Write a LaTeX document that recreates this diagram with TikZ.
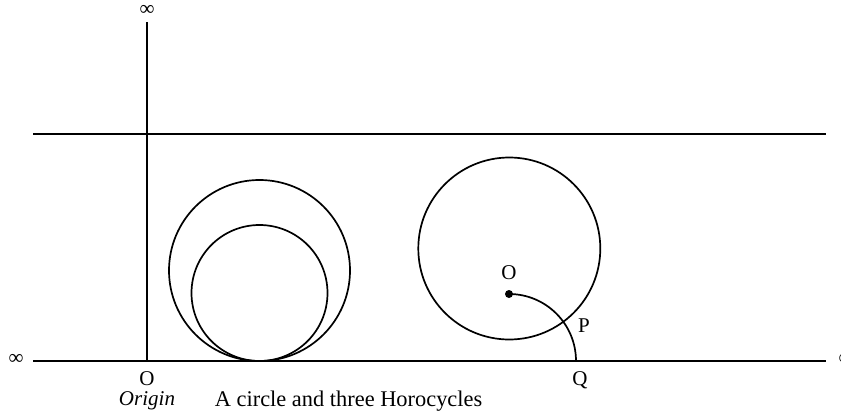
\documentclass[tikz,border=0pt]{standalone}
\usepackage{fontspec}
\setmainfont{Liberation Serif}
\usetikzlibrary{calc}

\begin{document}
\begin{tikzpicture}[
  x=1pt, y=-1pt, line width=1.7pt,
  lbl/.style={inner sep=0pt, font=\fontsize{21}{25}\selectfont},
  cyc/.style={draw, line width=1.7pt},
  dot/.style={circle, fill, inner sep=0pt, minimum size=8pt}]
  \useasboundingbox (0,0) rectangle (841,415);
  % the two horizontal lines and the axis
  \coordinate (west) at (33,361);
  \coordinate (east) at (826,361);
  \coordinate (nw) at (33,134);
  \coordinate (ne) at (826,134);
  \coordinate (top) at (147,22);
  \coordinate (orig) at (147,361);
  \draw (west) -- (east);
  \draw (nw) -- (ne);
  \draw (top) -- (orig);
  \node[lbl] (inftop) at (147,10) {∞};
  \node[lbl] (infwest) at (16,359) {∞};
  \node[lbl] (infeast) at (846,359) {∞};
  % horocycles and the circle
  \draw[cyc] (259.5,270.5) circle[radius=90.5];
  \draw[cyc] (259.5,293) circle[radius=68];
  \draw[cyc] (509.3,248.5) circle[radius=91];
  \node[dot] (O) at (509,294) {};
  \draw (O.center) arc[start angle=-90, end angle=0, radius=67];
  \node[lbl] (Olbl) at (509,273) {O};
  \node[lbl] (Plbl) at (584,326) {P};
  \node[lbl] (Qlbl) at (580,380) {Q};
  % captions
  \node[lbl] (origlbl) at (147,379) {O};
  \node[lbl, font=\fontsize{21}{25}\selectfont\itshape] (origin) at (147,401) {Origin};
  \node[lbl, anchor=west, font=\fontsize{22.4}{26}\selectfont] (caption) at (214,401) {A circle and three Horocycles};
\end{tikzpicture}
\end{document}
